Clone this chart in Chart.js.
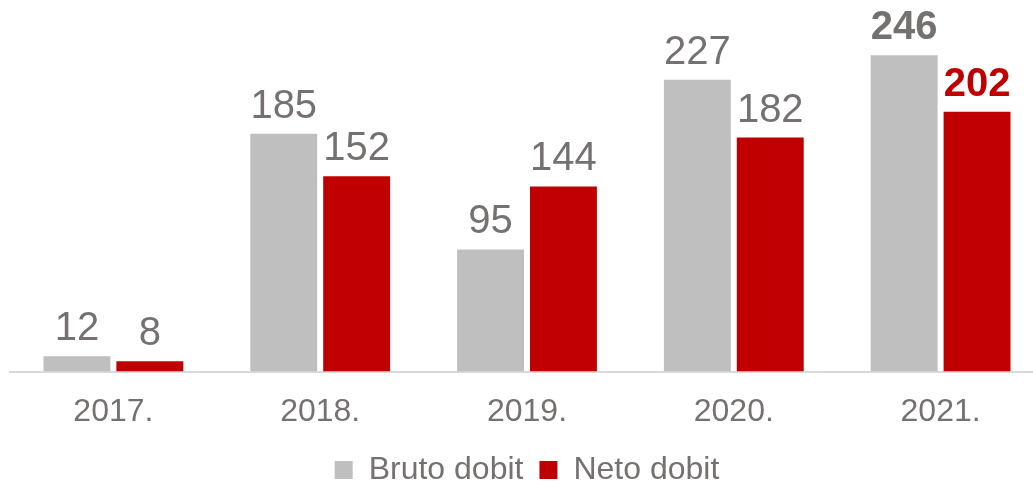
<!DOCTYPE html>
<html>
<head>
<meta charset="utf-8">
<script src="https://cdn.jsdelivr.net/npm/chart.js@4/dist/chart.umd.min.js"></script>
<style>
  html, body { margin: 0; padding: 0; background: #fff; overflow: hidden; }
  /* canvas is a bit wider than the window so the last group runs to the edge */
  #wrap { width: 1044px; height: 486px; }
</style>
</head>
<body>
<div id="wrap"><canvas id="dobitChart"></canvas></div>
<script>
const years = ["2017.", "2018.", "2019.", "2020.", "2021."];
const brutoDobit = [12, 185, 95, 227, 246];
const netoDobit = [8, 152, 144, 182, 202];

const GRAY = "#BFBFBF";
const RED = "#C00000";
const TEXT = "#767171";
const FONT = "'Liberation Sans', Arial, sans-serif";

// value labels above each bar, last year in bold
const valueLabels = {
  id: "valueLabels",
  afterDatasetsDraw(chart) {
    const ctx = chart.ctx;
    ctx.save();
    ctx.textAlign = "center";
    ctx.textBaseline = "alphabetic";
    chart.data.datasets.forEach((ds, di) => {
      chart.getDatasetMeta(di).data.forEach((bar, i) => {
        const last = i === ds.data.length - 1;
        ctx.font = (last ? "bold " : "") + "40px " + FONT;
        ctx.fillStyle = last ? (di === 0 ? TEXT : RED) : TEXT;
        ctx.fillText(ds.data[i], bar.x, bar.y - 16);
      });
    });
    ctx.restore();
  }
};

new Chart(document.getElementById("dobitChart"), {
  type: "bar",
  data: {
    labels: years,
    datasets: [
      { label: "Bruto dobit", data: brutoDobit, backgroundColor: GRAY },
      { label: "Neto dobit", data: netoDobit, backgroundColor: RED }
    ]
  },
  options: {
    responsive: true,
    maintainAspectRatio: false,
    animation: false,
    layout: { padding: { left: 10, right: 0, top: 0, bottom: -10 } },
    categoryPercentage: 0.705,
    barPercentage: 0.918,
    scales: {
      x: {
        grid: { display: false },
        border: { display: true, color: "#D9D9D9", width: 2 },
        ticks: {
          color: TEXT,
          padding: 13,
          font: { family: FONT, size: 32 }
        },
        afterFit(scale) { scale.height -= 6; }
      },
      y: {
        display: false,
        min: 0,
        max: 289
      }
    },
    plugins: {
      tooltip: { enabled: false },
      legend: {
        position: "bottom",
        labels: {
          color: TEXT,
          boxWidth: 18,
          boxHeight: 18,
          padding: 16,
          font: { family: FONT, size: 32 }
        }
      }
    }
  },
  plugins: [valueLabels]
});
</script>
</body>
</html>
